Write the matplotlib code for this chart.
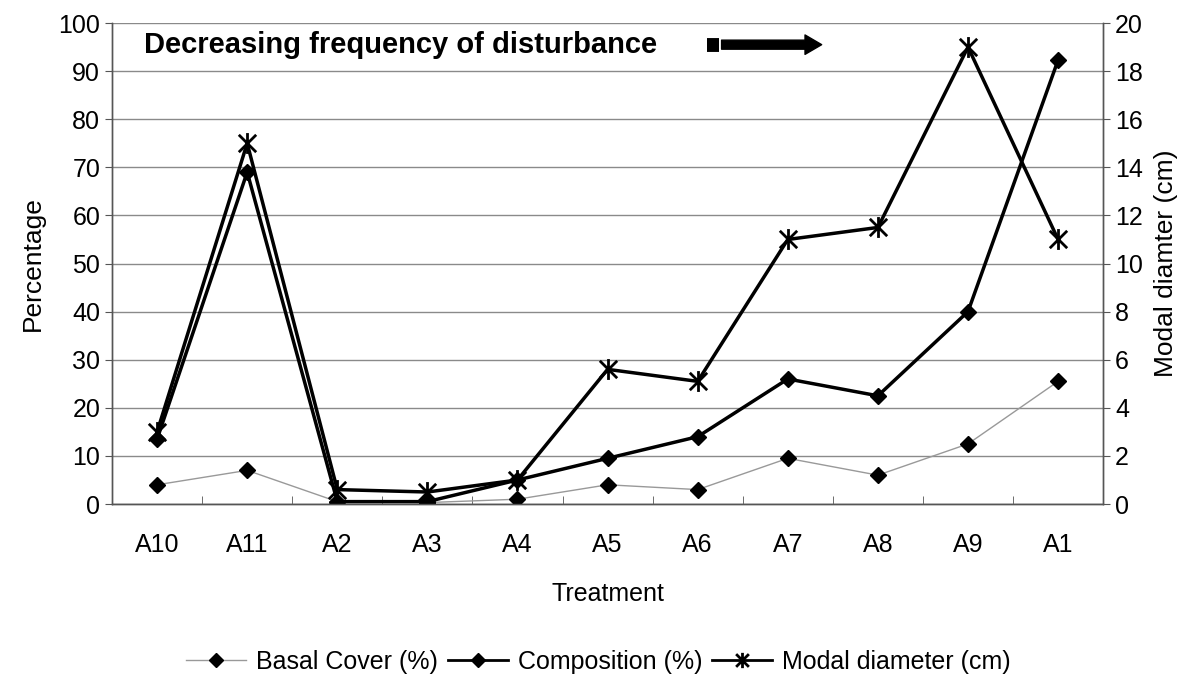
import numpy as np
import matplotlib.pyplot as plt
from matplotlib.lines import Line2D
from matplotlib.path import Path

plt.rcParams['font.family'] = ['Liberation Sans', 'DejaVu Sans']

treatments = ['A10', 'A11', 'A2', 'A3', 'A4', 'A5', 'A6', 'A7', 'A8', 'A9', 'A1']
basal_cover = [4, 7, 0.5, 0.3, 1, 4, 3, 9.5, 6, 12.5, 25.5]
composition = [13.5, 69, 0.5, 0.5, 5, 9.5, 14, 26, 22.5, 40, 92.3]
modal_diameter = [3, 15, 0.6, 0.5, 1, 5.6, 5.1, 11, 11.5, 19, 11]

# excel style star: an x with a vertical bar through it
star = Path([(-1, -1), (1, 1), (-1, 1), (1, -1), (0, -1.2), (0, 1.2)],
            [Path.MOVETO, Path.LINETO, Path.MOVETO, Path.LINETO, Path.MOVETO, Path.LINETO])

fig = plt.figure(figsize=(11.97, 6.77), dpi=100)
ax = fig.add_axes([0.0936, 0.2555, 0.828, 0.7105])
ax2 = ax.twinx()

x = np.arange(len(treatments))

ax.plot(x, basal_cover, color='#999999', lw=1, marker='D', ms=8,
        mfc='black', mec='black', zorder=3)
ax.plot(x, composition, color='black', lw=2.5, marker='D', ms=8.5,
        mfc='black', mec='black', zorder=3)
ax2.plot(x, modal_diameter, color='black', lw=2.5, marker=star, ms=15,
         mew=2, mec='black', zorder=3)

ax.set_xlim(-0.5, len(treatments) - 0.5)
ax.set_ylim(0, 100)
ax2.set_ylim(0, 20)
ax.set_yticks(np.arange(0, 101, 10))
ax2.set_yticks(np.arange(0, 21, 2))
ax.set_xticks(x)
ax.set_xticklabels(treatments)
ax.set_xticks(np.arange(0.5, len(treatments) - 0.5), minor=True)
ax.tick_params(axis='x', which='major', length=0, pad=21, labelsize=18)
ax.tick_params(axis='x', which='minor', direction='in', length=6, color='#555555')
ax.tick_params(axis='y', labelsize=18, length=5, color='#555555')
ax2.tick_params(axis='y', labelsize=18, length=5, color='#555555')

ax.yaxis.grid(True, color='#8a8a8a', lw=1)
ax.set_axisbelow(True)
for a in (ax, ax2):
    a.spines['top'].set_visible(False)
    for s in ('left', 'right', 'bottom'):
        a.spines[s].set_color('#555555')
        a.spines[s].set_linewidth(1)

ax.set_xlabel('Treatment', fontsize=18, labelpad=18)
ax.set_ylabel('Percentage', fontsize=19, labelpad=10)
ax2.set_ylabel('Modal diamter (cm)', fontsize=19, labelpad=8)

ax.text(0.032, 0.955, 'Decreasing frequency of disturbance', transform=ax.transAxes,
        fontsize=21, fontweight='heavy', ha='left', va='center',
        family=['Liberation Sans Narrow', 'Liberation Sans'])
ax.plot([0.6, 0.612], [0.955, 0.955], transform=ax.transAxes, color='black',
        lw=10, solid_capstyle='butt', clip_on=False)
ax.annotate('', xy=(0.716, 0.955), xytext=(0.615, 0.955), xycoords='axes fraction',
            arrowprops=dict(arrowstyle='simple,head_length=1.2,head_width=1.4,tail_width=0.65',
                            color='black', shrinkA=0, shrinkB=0))

handles = [
    Line2D([], [], color='#999999', lw=1, marker='D', ms=7, mfc='black', mec='black'),
    Line2D([], [], color='black', lw=2, marker='D', ms=7, mfc='black', mec='black'),
    Line2D([], [], color='black', lw=2, marker=star, ms=11, mew=2, mec='black'),
]
fig.legend(handles, ['Basal Cover (%)', 'Composition (%)', 'Modal diameter (cm)'],
           loc='center', bbox_to_anchor=(0.5, 0.022), ncol=3, frameon=False,
           fontsize=18, handlelength=2.4, handletextpad=0.4, columnspacing=0.4)

fig.savefig('out.png', dpi=100)
